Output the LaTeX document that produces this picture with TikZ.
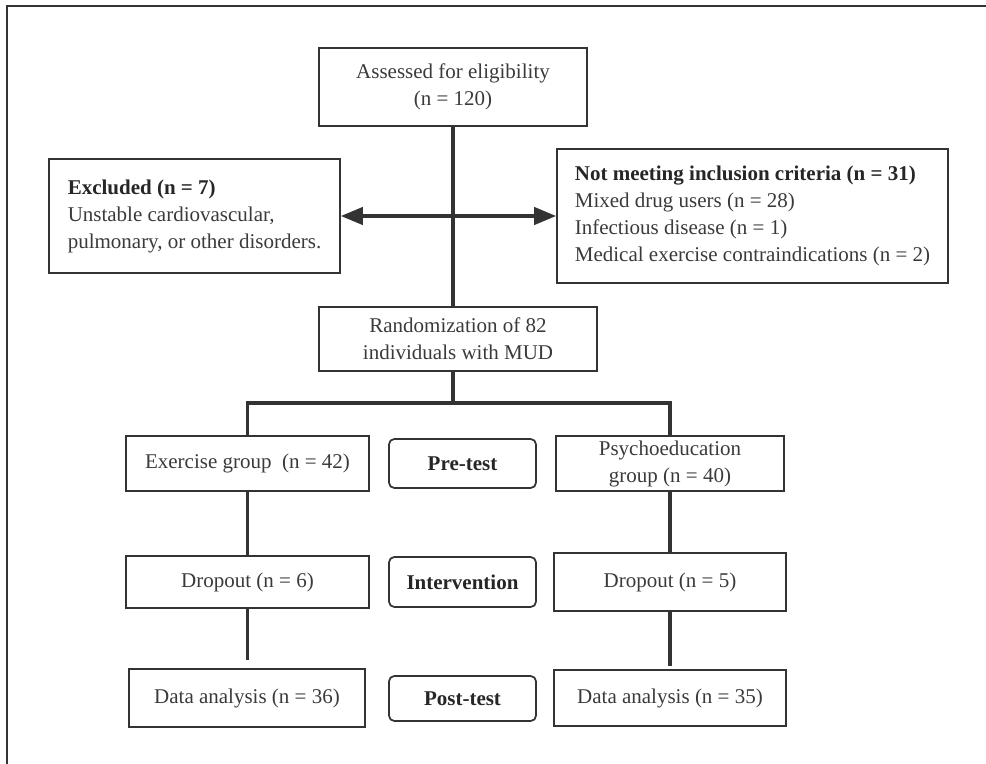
\documentclass[tikz,border=0pt]{standalone}
\usepackage{fontspec}
\setmainfont{Liberation Serif}
\usetikzlibrary{arrows.meta}
\definecolor{ink}{HTML}{333333}
\definecolor{txt}{HTML}{3A3A3A}
\begin{document}
\begin{tikzpicture}[x=0.75pt,y=-0.75pt,
  box/.style={draw=ink, line width=1.3pt, inner sep=0pt, font=\fontsize{15.75}{20.25}\selectfont, text=txt, align=center},
  stagebox/.style={box, rounded corners=4pt, font=\fontsize{15.75}{20.25}\selectfont\bfseries, text=black!85},
  conn/.style={draw=ink, line width=2.4pt, line join=miter},
  tip/.style={{Triangle[length=16.5pt,width=13pt]}-{Triangle[length=16.5pt,width=13pt]}}]
\useasboundingbox (0,0) rectangle (986,764);
\draw[ink, line width=1.4pt] (7,764) -- (7,6) -- (986,6);

\node[box, minimum width=201pt, minimum height=58.5pt] (assess) at (453,87) {Assessed for eligibility\\(n = 120)};
\node[box, minimum width=218.25pt, minimum height=85.5pt, align=left] (excl) at (194.5,216)
  {{\bfseries\color{black!85}Excluded (n = 7)}\\Unstable cardiovascular,\\pulmonary, or other disorders.};
\node[box, minimum width=293.25pt, minimum height=100.5pt, align=left] (notmeet) at (752.5,216)
  {{\bfseries\color{black!85}Not meeting inclusion criteria (n = 31)}\\Mixed drug users (n = 28)\\Infectious disease (n = 1)\\Medical exercise contraindications (n = 2)};
\node[box, minimum width=208.5pt, minimum height=48pt] (rand) at (458,339) {Randomization of 82\\individuals with MUD};

\node[box, minimum width=182.25pt, minimum height=41.25pt] (ex) at (247.5,463.5) {Exercise group~ (n = 42)};
\node[stagebox, minimum width=110.25pt, minimum height=36.75pt] (pre) at (462.5,463.5) {Pre-test};
\node[box, minimum width=171pt, minimum height=41.25pt] (psy) at (670,463.5) {Psychoeducation\\group (n = 40)};

\node[box, minimum width=182.25pt, minimum height=39pt] (dl) at (247.5,582) {Dropout (n = 6)};
\node[stagebox, minimum width=110.25pt, minimum height=37.5pt] (int) at (462.5,582) {Intervention};
\node[box, minimum width=174pt, minimum height=43.5pt] (dr) at (670,582) {Dropout (n = 5)};

\node[box, minimum width=177pt, minimum height=43.5pt] (al) at (247,698) {Data analysis (n = 36)};
\node[stagebox, minimum width=110.25pt, minimum height=33.75pt] (post) at (462.5,698.5) {Post-test};
\node[box, minimum width=174pt, minimum height=42pt] (ar) at (670,698) {Data analysis (n = 35)};

\coordinate (split) at (453,403);

\draw[conn] (assess.south) -- (assess.south |- rand.north);
\draw[conn, tip] (excl.east) -- (notmeet.west);
\draw[conn] (split |- rand.south) -- (split);
\draw[conn] (ex.north) -- (ex.north |- split) -- (psy.north |- split) -- (psy.north);
\draw[conn] (ex.south) -- (dl.north);
\draw[conn] (psy.south) -- (dr.north);
\draw[conn] (dl.south) -- ([yshift=6pt]dl.south |- al.north);
\draw[conn] (dr.south) -- ([yshift=2.25pt]dr.south |- ar.north);
\end{tikzpicture}
\end{document}
